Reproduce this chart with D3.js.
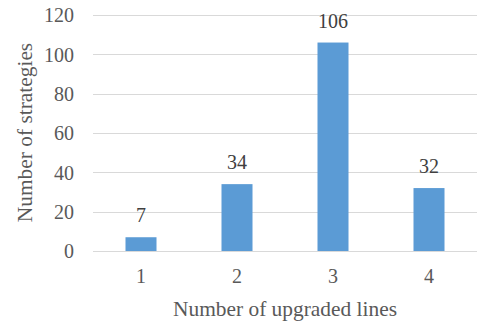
<!DOCTYPE html>
<html>
<head>
<meta charset="utf-8">
<script src="https://cdn.jsdelivr.net/npm/d3@7"></script>
<style>
  html, body { margin: 0; padding: 0; background: #fff; }
  svg { display: block; }
</style>
</head>
<body>
<svg id="chart" width="477" height="322"></svg>
<script>
// Strategy counts by number of upgraded lines
const categories = ["1", "2", "3", "4"];
const counts = [7, 34, 106, 32];
const yTicks = [0, 20, 40, 60, 80, 100, 120];

const svg = d3.select("#chart");
const font = "'Liberation Serif', 'Times New Roman', serif";
const margin = { left: 93, right: 0, top: 15, bottom: 71 };
const W = 477, H = 322;

const x = d3.scaleBand()
  .domain(categories)
  .range([margin.left, W - margin.right])
  .paddingInner(0.677)
  .paddingOuter(0.3385);

const y = d3.scaleLinear()
  .domain([0, 120])
  .range([H - margin.bottom, margin.top]);

// Horizontal gridlines
svg.append("g")
  .selectAll("line")
  .data(yTicks)
  .join("line")
  .attr("x1", margin.left)
  .attr("x2", W - margin.right)
  .attr("y1", d => Math.round(y(d)) + 0.5)
  .attr("y2", d => Math.round(y(d)) + 0.5)
  .attr("stroke", "#d9d9d9")
  .attr("stroke-width", 1.2);

// Y axis labels
const yAxis = d3.axisLeft(y).tickValues(yTicks).tickSize(0).tickPadding(0);
const gy = svg.append("g")
  .attr("transform", `translate(74,0)`)
  .call(yAxis);
gy.select(".domain").remove();
gy.selectAll("text")
  .attr("font-family", font)
  .attr("font-size", 20)
  .attr("fill", "#595959")
  .attr("dy", "0.34em");

// Bars
svg.append("g")
  .selectAll("rect")
  .data(counts)
  .join("rect")
  .attr("x", (d, i) => x(categories[i]))
  .attr("width", x.bandwidth())
  .attr("y", d => y(d))
  .attr("height", d => y(0) - y(d))
  .attr("fill", "#5b9bd5");

// Value labels above bars
svg.append("g")
  .selectAll("text")
  .data(counts)
  .join("text")
  .attr("x", (d, i) => x(categories[i]) + x.bandwidth() / 2)
  .attr("y", d => y(d) - 15)
  .attr("text-anchor", "middle")
  .attr("font-family", font)
  .attr("font-size", 20)
  .attr("fill", "#404040")
  .text(d => d);

// X axis labels
const xAxis = d3.axisBottom(x).tickSize(0).tickPadding(0);
const gx = svg.append("g")
  .attr("transform", `translate(0,283)`)
  .call(xAxis);
gx.select(".domain").remove();
gx.selectAll("text")
  .attr("font-family", font)
  .attr("font-size", 20)
  .attr("fill", "#595959")
  .attr("dy", 0);

// Axis titles
svg.append("text")
  .attr("x", 285)
  .attr("y", 316)
  .attr("text-anchor", "middle")
  .attr("font-family", font)
  .attr("font-size", 21.4)
  .attr("fill", "#595959")
  .text("Number of upgraded lines");

svg.append("text")
  .attr("transform", `translate(32,132.5) rotate(-90)`)
  .attr("text-anchor", "middle")
  .attr("font-family", font)
  .attr("font-size", 21.4)
  .attr("fill", "#595959")
  .text("Number of strategies");
</script>
</body>
</html>
